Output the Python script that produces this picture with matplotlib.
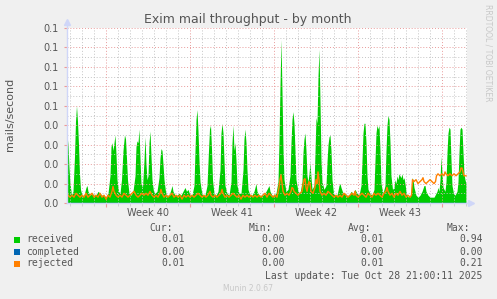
import matplotlib
matplotlib.use("Agg")
import matplotlib.pyplot as plt
from matplotlib.patches import Rectangle
import numpy as np

# ---------------- data (hours since Mon 2025-09-29 00:00) ----------------
received_hours = [-78, -76, -74, -72, -69, -66, -63, -61, -59, -57, -55, -53, -51, -48, -44, -40, -38, -36, -32, -28,
                  -24, -20, -16, -12, -8, -4, 0, 4, 8, 10, 12, 14, 16, 18, 20, 22, 25, 28, 31, 34,
                  37, 39, 41, 43, 46, 50, 54, 58, 60, 62, 64, 66, 68, 70, 73, 76, 78, 80, 82, 84,
                  86, 88, 90, 92, 95, 98, 102, 106, 108, 110, 112, 114, 116, 119, 122, 126, 130, 132, 134, 138,
                  142, 146, 150, 154, 158, 161, 164, 168, 172, 176, 178, 180, 182, 184, 186, 188, 191, 194, 198, 202,
                  205, 207, 209, 211, 213, 216, 220, 224, 228, 230, 232, 234, 236, 238, 242, 246, 250, 252, 254, 256,
                  258, 260, 262, 266, 270, 274, 276, 278, 280, 282, 284, 288, 292, 296, 300, 302, 306, 310, 314, 318,
                  324, 326, 328, 332, 336, 340, 344, 346, 348, 350, 352, 354, 356, 360, 364, 368, 370, 372, 374, 376,
                  378, 380, 384, 388, 392, 394, 396, 398, 400, 402, 404, 406, 408, 410, 412, 416, 418, 420, 422, 424,
                  426, 428, 430, 432, 436, 440, 442, 444, 446, 448, 450, 452, 455, 458, 462, 466, 468, 470, 474, 478,
                  482, 486, 490, 494, 498, 502, 506, 510, 512, 514, 516, 518, 520, 522, 524, 528, 532, 536, 538, 540,
                  542, 544, 546, 548, 550, 554, 558, 560, 562, 564, 566, 568, 570, 573, 576, 578, 580, 582, 584, 586,
                  588, 590, 592, 594, 596, 598, 600, 602, 604, 606, 608, 610, 612, 614, 616, 618, 620, 624, 628, 632,
                  636, 638, 640, 644, 648, 652, 656, 660, 662, 664, 666, 668, 670, 672, 674, 678, 680, 682, 684, 686,
                  688, 690, 692, 695, 698, 702, 704, 706, 708, 710, 712, 714, 716, 718, 720]
received_rate = [0.035, 0.030, 0.018, 0.010, 0.004, 0.006, 0.024, 0.042, 0.050, 0.042, 0.030, 0.015, 0.007, 0.004, 0.004, 0.008, 0.009, 0.006, 0.004, 0.005,
                 0.004, 0.004, 0.006, 0.005, 0.004, 0.004, 0.003, 0.005, 0.014, 0.029, 0.031, 0.027, 0.031, 0.035, 0.025, 0.012, 0.006, 0.005, 0.012, 0.027,
                 0.035, 0.033, 0.023, 0.012, 0.005, 0.004, 0.006, 0.014, 0.029, 0.032, 0.031, 0.038, 0.023, 0.010, 0.008, 0.022, 0.034, 0.020, 0.012, 0.014,
                 0.031, 0.037, 0.024, 0.012, 0.006, 0.005, 0.006, 0.013, 0.023, 0.028, 0.027, 0.020, 0.012, 0.006, 0.004, 0.004, 0.007, 0.009, 0.006, 0.004,
                 0.004, 0.005, 0.004, 0.006, 0.008, 0.006, 0.007, 0.004, 0.004, 0.009, 0.027, 0.043, 0.048, 0.037, 0.022, 0.011, 0.006, 0.004, 0.004, 0.009,
                 0.027, 0.038, 0.040, 0.028, 0.012, 0.005, 0.004, 0.006, 0.017, 0.036, 0.041, 0.036, 0.022, 0.009, 0.005, 0.004, 0.011, 0.031, 0.040, 0.027,
                 0.031, 0.022, 0.009, 0.005, 0.005, 0.017, 0.033, 0.038, 0.031, 0.017, 0.007, 0.004, 0.004, 0.006, 0.010, 0.006, 0.004, 0.004, 0.004, 0.005,
                 0.008, 0.009, 0.006, 0.004, 0.004, 0.005, 0.011, 0.032, 0.060, 0.084, 0.057, 0.028, 0.012, 0.006, 0.007, 0.014, 0.031, 0.043, 0.047, 0.041,
                 0.027, 0.012, 0.006, 0.005, 0.011, 0.026, 0.033, 0.036, 0.027, 0.014, 0.011, 0.015, 0.021, 0.013, 0.007, 0.009, 0.026, 0.044, 0.041, 0.065,
                 0.079, 0.052, 0.022, 0.011, 0.007, 0.009, 0.021, 0.030, 0.034, 0.035, 0.027, 0.012, 0.005, 0.004, 0.004, 0.009, 0.010, 0.008, 0.005, 0.005,
                 0.004, 0.004, 0.006, 0.005, 0.007, 0.005, 0.004, 0.009, 0.022, 0.036, 0.041, 0.041, 0.031, 0.014, 0.007, 0.005, 0.004, 0.007, 0.022, 0.036,
                 0.040, 0.038, 0.040, 0.027, 0.010, 0.005, 0.009, 0.027, 0.040, 0.045, 0.043, 0.031, 0.014, 0.007, 0.008, 0.012, 0.010, 0.014, 0.012, 0.015,
                 0.014, 0.013, 0.015, 0.012, 0.013, 0.010, 0.006, 0.004, 0.003, 0.004, 0.003, 0.005, 0.013, 0.012, 0.008, 0.006, 0.004, 0.003, 0.004, 0.006,
                 0.009, 0.009, 0.006, 0.004, 0.003, 0.003, 0.003, 0.005, 0.006, 0.008, 0.006, 0.012, 0.024, 0.015, 0.008, 0.006, 0.011, 0.026, 0.036, 0.039,
                 0.038, 0.022, 0.009, 0.005, 0.004, 0.006, 0.011, 0.026, 0.038, 0.039, 0.038, 0.026, 0.015, 0.012, 0.010]

completed_hours = [-78, 720]
completed_rate = [0.0, 0.0]

rejected_hours = [-78, -76, -72, -68, -64, -60, -56, -52, -48, -44, -40, -36, -32, -28, -24, -20, -16, -12, -8, -4,
                  0, 4, 8, 12, 14, 16, 20, 24, 28, 32, 36, 40, 44, 48, 52, 56, 60, 64, 68, 72,
                  76, 80, 84, 88, 92, 96, 100, 104, 108, 110, 112, 116, 120, 124, 128, 132, 136, 140, 144, 148,
                  152, 156, 160, 164, 168, 172, 176, 180, 184, 188, 192, 196, 200, 204, 208, 210, 214, 218, 222, 226,
                  230, 232, 234, 238, 242, 246, 250, 254, 258, 262, 266, 270, 274, 278, 282, 286, 290, 294, 298, 302,
                  306, 310, 314, 318, 322, 326, 330, 334, 338, 342, 346, 348, 350, 352, 354, 358, 362, 366, 370, 372,
                  374, 376, 380, 384, 388, 392, 394, 396, 398, 400, 402, 404, 406, 408, 410, 414, 418, 420, 422, 424,
                  426, 428, 432, 436, 440, 444, 448, 452, 456, 460, 464, 468, 472, 476, 480, 484, 488, 492, 496, 498,
                  500, 504, 508, 512, 516, 520, 524, 528, 532, 536, 540, 544, 548, 552, 556, 560, 562, 564, 568, 572,
                  576, 580, 584, 588, 592, 596, 600, 604, 608, 611, 613, 616, 620, 624, 628, 632, 634, 636, 640, 644,
                  648, 652, 656, 659, 661, 664, 668, 672, 676, 678, 680, 684, 688, 692, 696, 700, 704, 708, 710, 712,
                  714, 716, 720]
rejected_rate = [0.006, 0.004, 0.003, 0.004, 0.003, 0.005, 0.004, 0.003, 0.004, 0.003, 0.005, 0.003, 0.004, 0.005, 0.003, 0.004, 0.003, 0.005, 0.003, 0.004,
                 0.002, 0.004, 0.003, 0.006, 0.0085, 0.006, 0.004, 0.003, 0.004, 0.003, 0.005, 0.004, 0.003, 0.004, 0.005, 0.006, 0.004, 0.003, 0.004, 0.005,
                 0.004, 0.005, 0.004, 0.006, 0.004, 0.003, 0.004, 0.003, 0.005, 0.007, 0.005, 0.003, 0.004, 0.003, 0.004, 0.005, 0.003, 0.004, 0.003, 0.004,
                 0.002, 0.004, 0.003, 0.004, 0.003, 0.004, 0.003, 0.004, 0.005, 0.004, 0.003, 0.004, 0.003, 0.004, 0.006, 0.004, 0.003, 0.004, 0.003, 0.004,
                 0.005, 0.007, 0.005, 0.003, 0.004, 0.003, 0.004, 0.005, 0.004, 0.003, 0.004, 0.002, 0.004, 0.003, 0.004, 0.003, 0.004, 0.003, 0.004, 0.003,
                 0.004, 0.003, 0.004, 0.005, 0.003, 0.005, 0.004, 0.003, 0.004, 0.003, 0.008, 0.012, 0.0145, 0.010, 0.006, 0.004, 0.005, 0.004, 0.006, 0.008,
                 0.0075, 0.006, 0.005, 0.004, 0.005, 0.006, 0.009, 0.012, 0.0125, 0.008, 0.006, 0.009, 0.011, 0.010, 0.006, 0.005, 0.008, 0.012, 0.010, 0.016,
                 0.012, 0.006, 0.004, 0.005, 0.004, 0.006, 0.005, 0.004, 0.003, 0.004, 0.003, 0.004, 0.003, 0.005, 0.004, 0.003, 0.004, 0.005, 0.004, 0.006,
                 0.004, 0.003, 0.004, 0.005, 0.004, 0.003, 0.005, 0.004, 0.003, 0.005, 0.004, 0.005, 0.004, 0.003, 0.005, 0.006, 0.008, 0.006, 0.004, 0.005,
                 0.003, 0.005, 0.004, 0.006, 0.004, 0.005, 0.003, 0.004, 0.003, 0.004, 0.012, 0.011, 0.012, 0.010, 0.011, 0.012, 0.013, 0.011, 0.010, 0.011,
                 0.012, 0.011, 0.010, 0.011, 0.014, 0.015, 0.014, 0.015, 0.014, 0.016, 0.015, 0.014, 0.015, 0.014, 0.015, 0.014, 0.015, 0.016, 0.018, 0.018,
                 0.016, 0.014, 0.014]

week_labels = ["Week 40", "Week 41", "Week 42", "Week 43"]
week_start_hours = [0, 168, 336, 504, 672]
series_names = ["received", "completed", "rejected"]
series_colors = ["#00CC00", "#0066B3", "#FF8000"]
cur_vals = [0.01, 0.00, 0.01]
min_vals = [0.00, 0.00, 0.00]
avg_vals = [0.01, 0.00, 0.01]
max_vals = [0.94, 0.00, 0.21]
title = "Exim mail throughput - by month"
ylabel = "mails/second"
last_update = "Last update: Tue Oct 28 21:00:11 2025"
t_start, t_end = -78, 722
y_max = 0.09

# ---------------- layout ----------------
W, H = 497, 299
fig = plt.figure(figsize=(W / 100, H / 100), dpi=100, facecolor="#F0F0F0")


def fx(x):
    return x / W


def fy(y):
    return 1 - y / H


ax = fig.add_axes([fx(67), fy(203), 400 / W, 175 / H])
ax.set_facecolor("white")
ax.set_xlim(t_start, t_end)
ax.set_ylim(0, y_max)

ax.fill_between(received_hours, received_rate, 0, color=series_colors[0], lw=0, zorder=2)
ax.plot(completed_hours, completed_rate, color=series_colors[1], lw=1, zorder=2)

# grid (drawn over the area, like rrdtool)
dot = (0, (1, 2))
minor_col = "#C4C4C4"
major_col = "#E89A9A"
for y in np.arange(0.005, y_max, 0.01):
    ax.axhline(y, color=minor_col, lw=0.7, ls=dot, zorder=3)
for y in np.arange(0.01, y_max + 1e-9, 0.01):
    ax.axhline(y, color=major_col, lw=0.7, ls=dot, zorder=3)
for h in range(-72, t_end, 24):
    if h % 168 != 0:
        ax.axvline(h, color=minor_col, lw=0.7, ls=dot, zorder=3)
for h in week_start_hours:
    ax.axvline(h, color=major_col, lw=0.7, ls=dot, zorder=3)

ax.plot(rejected_hours, rejected_rate, color=series_colors[2], lw=1, zorder=4)

for s in ["top", "right"]:
    ax.spines[s].set_visible(False)
axis_col = "#CFD6F8"
for s in ["left", "bottom"]:
    ax.spines[s].set_color(axis_col)
    ax.spines[s].set_linewidth(1)
    ax.spines[s].set_zorder(5)
# axis extensions with arrows
ax.plot([0, 0], [1, 1 + 5 / 175], color=axis_col, lw=1, transform=ax.transAxes, clip_on=False)
ax.plot([1, 1 + 3 / 400], [0, 0], color=axis_col, lw=1, transform=ax.transAxes, clip_on=False)
ax.plot([0], [1 + 6 / 175], marker="^", ms=4, color=axis_col, transform=ax.transAxes, clip_on=False)
ax.plot([1 + 4 / 400], [0], marker=">", ms=4, color=axis_col, transform=ax.transAxes, clip_on=False)

text_col = "#555555"
yt = np.arange(0, y_max + 1e-9, 0.01)
ax.set_yticks(yt)
ax.set_yticklabels(["%.1f" % v for v in yt], fontsize=7, color=text_col)
ax.tick_params(axis="y", length=2, color="#EE9999", pad=4)
ax.set_xticks(week_start_hours)
ax.set_xticklabels([])
ax.set_xticks(list(range(-72, t_end, 24)), minor=True)
ax.tick_params(axis="x", which="major", length=3, color="#EE9999")
ax.tick_params(axis="x", which="minor", length=2, color="#CCCCCC")

for i, lab in enumerate(week_labels):
    mid = (week_start_hours[i] + week_start_hours[i + 1]) / 2
    ax.text(mid, -9.5 / 175, lab, transform=ax.get_xaxis_transform(), ha="center", va="center",
            fontsize=7, color=text_col)

# titles
fig.text(fx(248), fy(19), title, ha="center", va="center", fontsize=9, color=text_col)
fig.text(fx(10), fy(114), ylabel, ha="center", va="center", rotation=90, fontsize=8, color=text_col)
fig.text(fx(488), fy(53), "RRDTOOL / TOBI OETIKER", ha="center", va="center", rotation=-90,
         fontsize=5.5, color="#C8C8C8")

# legend
mono = "DejaVu Sans Mono"
fs = 7
row_y = [239.5, 251.7, 263.5]
fig.text(fx(172.5), fy(227.7), "Cur:", ha="right", va="center", family=mono, fontsize=fs, color=text_col)
fig.text(fx(272.5), fy(227.7), "Min:", ha="right", va="center", family=mono, fontsize=fs, color=text_col)
fig.text(fx(371.5), fy(227.7), "Avg:", ha="right", va="center", family=mono, fontsize=fs, color=text_col)
fig.text(fx(470.5), fy(227.7), "Max:", ha="right", va="center", family=mono, fontsize=fs, color=text_col)
for i, name in enumerate(series_names):
    yy = row_y[i]
    fig.patches.append(Rectangle((fx(14), fy(yy + 3)), 6 / W, 6 / H, transform=fig.transFigure,
                                 facecolor=series_colors[i], edgecolor="none"))
    fig.text(fx(26.5), fy(yy), name, ha="left", va="center", family=mono, fontsize=fs, color=text_col)
    for xr, vals in zip([184.5, 284.5, 383.5, 482.5], [cur_vals, min_vals, avg_vals, max_vals]):
        fig.text(fx(xr), fy(yy), "%.2f" % vals[i], ha="right", va="center", family=mono,
                 fontsize=fs, color=text_col)
fig.text(fx(482.5), fy(275.7), last_update, ha="right", va="center", family=mono, fontsize=fs, color=text_col)
fig.text(fx(248), fy(288.3), "Munin 2.0.67", ha="center", va="center", fontsize=5.5, color="#C8C8C8")

fig.savefig("out.png", dpi=100, facecolor=fig.get_facecolor())
